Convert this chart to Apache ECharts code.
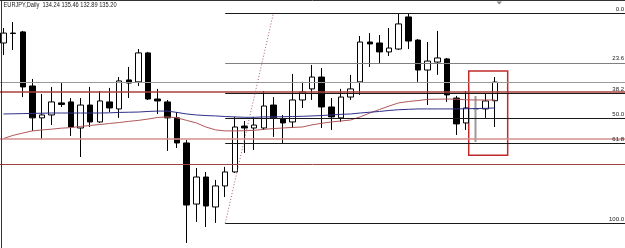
<!DOCTYPE html>
<html><head><meta charset="utf-8">
<script src="https://cdn.jsdelivr.net/npm/echarts@6/dist/echarts.min.js"></script>
<style>html,body{margin:0;padding:0;background:#fff}#c{width:625px;height:248px}</style>
</head><body><div id="c"></div>
<script>
const titleText = 'EURJPY,Daily  134.24 135.46 132.89 135.20';

const opens  = [137.21,137.72,137.78,135.00,133.36,133.51,134.13,134.18,132.84,134.02,133.15,134.18,133.82,135.31,135.21,136.70,134.33,134.18,133.36,132.07,128.93,130.32,128.78,129.86,130.58,132.94,132.84,132.84,134.02,133.30,133.15,134.28,134.85,135.46,133.92,133.36,134.43,135.21,137.26,137.21,136.75,136.90,138.55,137.36,135.82,136.23,136.39,134.38,133.10,133.82,133.82,134.24];
const closes = [137.72,137.70,134.95,133.36,133.51,134.18,134.05,132.89,134.02,133.15,134.23,133.87,135.26,135.15,136.70,134.33,134.23,133.36,132.07,128.88,130.32,128.83,129.86,130.58,132.89,132.84,132.99,133.97,133.36,133.10,134.28,134.69,135.46,133.92,133.41,134.43,134.85,137.26,137.16,136.75,136.95,138.19,137.31,135.82,136.28,136.44,134.54,133.05,133.87,133.82,134.23,135.20];
const lows   = [136.59,136.85,134.43,132.69,132.28,132.99,133.92,132.43,131.35,132.89,133.10,133.66,133.36,134.38,135.00,134.28,133.56,131.66,131.81,126.93,128.01,127.75,127.96,129.29,130.53,131.56,131.71,132.74,132.38,132.07,132.84,133.87,134.28,132.84,132.74,133.15,134.28,134.54,135.98,136.18,136.54,136.85,136.90,135.21,134.02,135.57,134.18,132.48,132.74,132.12,133.36,132.89];
const highs  = [137.98,138.29,137.83,135.36,134.59,134.95,135.15,134.38,134.38,134.95,134.74,134.90,135.46,135.98,136.90,136.75,134.85,134.28,133.66,132.22,130.78,130.58,130.17,130.84,133.41,133.20,133.41,134.74,134.43,133.51,135.62,135.21,136.08,135.92,134.38,134.85,135.57,137.57,137.72,137.62,137.98,138.75,138.70,137.41,137.26,137.83,136.44,134.49,134.74,134.49,134.64,135.46];

const maRed  = [132.30,132.46,132.58,132.69,132.74,132.78,132.83,132.86,132.92,132.97,133.02,133.07,133.12,133.18,133.23,133.30,133.38,133.41,133.36,133.23,133.10,132.89,132.74,132.69,132.69,132.70,132.72,132.77,132.81,132.84,132.87,132.89,133.00,133.08,133.15,133.20,133.25,133.41,133.61,133.79,133.97,134.13,134.20,134.25,134.31,134.32,134.33,134.32,134.29,134.28,134.28,134.28];
const maBlue = [133.56,133.57,133.58,133.59,133.60,133.61,133.61,133.61,133.61,133.61,133.61,133.62,133.64,133.65,133.66,133.69,133.71,133.71,133.64,133.56,133.51,133.48,133.46,133.43,133.41,133.39,133.39,133.41,133.41,133.42,133.43,133.44,133.46,133.48,133.51,133.54,133.56,133.61,133.65,133.69,133.74,133.78,133.80,133.82,133.82,133.82,133.82,133.82,133.83,133.84,133.85,133.87];

const fibLevels = [138.74, 136.19, 134.61, 133.34, 132.07, 127.94];
const fibLabels = ['0.0', '23.6', '38.2', '50.0', '61.8', '100.0'];
const fibStart = 23;           // candle where the retracement was anchored
const fibEnd = 28;             // candle of the 0.0 anchor
const bidLine = 135.20;
const redLines = [134.68, 132.28, 130.99];
const boxX = [48.26, 52.30];
const boxY = [135.77, 131.44];
const dojiIndex = 49;

const X_MIN = -0.36, X_MAX = 64.47, Y_MIN = 126.67, Y_MAX = 139.42;

const candleData = opens.map((o, i) => {
  const v = [i, o, closes[i], lows[i], highs[i]];
  if (i === dojiIndex) {
    return { value: v, itemStyle: { color: '#9a9a9a', color0: '#9a9a9a', borderColor: '#9a9a9a', borderColor0: '#9a9a9a', borderWidth: 2 } };
  }
  return v;
});

const redStyles = [
  { color: '#a8403c', width: 1.6 },
  { color: '#d59090', width: 1.6 },
  { color: '#9c4444', width: 1 }
];

const fibMark = fibLevels.map((lv, i) => [
  { coord: [fibStart, lv], lineStyle: { color: i === 1 ? '#808080' : '#1a1a1a', width: 1, type: 'solid' },
    label: { show: true, formatter: fibLabels[i], position: 'insideEndTop', distance: [1, 1], fontSize: 6, color: '#222', fontFamily: 'Liberation Sans' } },
  { coord: [X_MAX, lv] }
]);

const chart = echarts.init(document.getElementById('c'));
chart.setOption({
  animation: false,
  backgroundColor: '#ffffff',
  grid: { left: 0, right: 0, top: 0, bottom: 0 },
  xAxis: { type: 'value', min: X_MIN, max: X_MAX, show: false },
  yAxis: { type: 'value', min: Y_MIN, max: Y_MAX, show: false, scale: true },
  graphic: [
    { type: 'line', shape: { x1: 0, y1: 0.5, x2: 625, y2: 0.5 }, style: { stroke: '#333', lineWidth: 1 }, z: 10 },
    { type: 'line', shape: { x1: 1.5, y1: 0, x2: 1.5, y2: 248 }, style: { stroke: '#333', lineWidth: 1 }, z: 10 },
    { type: 'polygon', shape: { points: [[496.5, 1.5], [502, 1.5], [499.2, 4.5]] }, style: { fill: '#888' }, z: 10 },
    { type: 'text', x: 3.5, y: 2, scaleX: 0.81, style: { text: titleText, font: '7px "Liberation Sans"', fill: '#1a1a1a', textVerticalAlign: 'top' }, z: 10 }
  ],
  series: [
    {
      type: 'line', data: [], z: 1, silent: true,
      markLine: {
        silent: true, symbol: ['none', 'none'], animation: false,
        label: { show: false },
        data: [
          { yAxis: bidLine, lineStyle: { color: '#9a9a9a', width: 1, type: 'solid' } },
          ...fibMark,
          ...redLines.map((v, i) => ({ yAxis: v, lineStyle: { color: redStyles[i].color, width: redStyles[i].width, type: 'solid' } })),
          [
            { coord: [fibStart, fibLevels[5]], lineStyle: { color: '#a8587a', width: 1, type: [1, 2] } },
            { coord: [fibEnd, fibLevels[0]] }
          ]
        ]
      }
    },
    {
      type: 'candlestick', z: 2,
      data: candleData,
      encode: { x: 0, y: [1, 2, 3, 4] },
      barWidth: 6,
      itemStyle: { color: '#ffffff', color0: '#000000', borderColor: '#000000', borderColor0: '#000000', borderWidth: 1 }
    },
    {
      type: 'line', z: 3, data: maRed.map((v, i) => [i, v]), showSymbol: false, symbol: 'none',
      lineStyle: { color: '#b0585a', width: 1 }
    },
    {
      type: 'line', z: 3, data: maBlue.map((v, i) => [i, v]), showSymbol: false, symbol: 'none',
      lineStyle: { color: '#30308c', width: 1 }
    },
    {
      type: 'line', data: [], z: 4, silent: true,
      markArea: {
        silent: true,
        itemStyle: { color: 'rgba(0,0,0,0)', borderColor: '#c02a2a', borderWidth: 1.5 },
        data: [[{ coord: [boxX[0], boxY[0]] }, { coord: [boxX[1], boxY[1]] }]]
      }
    }
  ]
});
</script>
</body></html>
